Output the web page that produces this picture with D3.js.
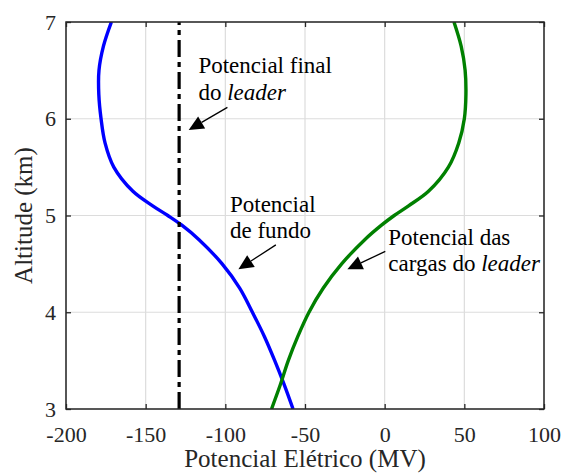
<!DOCTYPE html>
<html>
<head>
<meta charset="utf-8">
<script src="https://cdn.jsdelivr.net/npm/d3@7"></script>
<style>
html,body{margin:0;padding:0;background:#fff;}
svg{display:block;}
</style>
</head>
<body>
<svg id="chart" width="563" height="476"></svg>
<script>
// ---- data ----
const altitudes = [3.0,3.25,3.5,3.75,4.0,4.25,4.5,4.75,4.9,5.0,5.1,5.25,5.5,5.75,6.0,6.25,6.5,6.75,7.0];
const fundo     = [-57.5,-63,-69,-75.5,-83,-91,-102,-116.5,-127.3,-136.1,-145.6,-158,-170,-175.5,-178,-179.4,-179.3,-176.5,-171.5];
const cargas    = [-71,-65.5,-60.5,-54.5,-47.5,-38.5,-27,-12.5,-2,6,15,27.5,40,46.5,50,51,50.5,48,43.5];
const finalValue = -129;
const finalAlt = [3, 7];
const xTicks = [-200,-150,-100,-50,0,50,100];
const yTicks = [3,4,5,6,7];
const xLabel = "Potencial Elétrico (MV)";
const yLabel = "Altitude (km)";
// annotation text anchors and arrows in data units
const annotations = [
  {lines:[["Potencial final",""],["do ","leader"]], x:-116.9, y:6.47, tail:[-98.7,6.117], tip:[-123,5.884]},
  {lines:[["Potencial",""],["de fundo",""]], x:-97.1, y:5.04, tail:[-68.3,4.696], tip:[-91.8,4.445]},
  {lines:[["Potencial das",""],["cargas do ","leader"]], x:2.3, y:4.70, tail:[0.4,4.629], tip:[-23.4,4.445]}
];

const FONT = "'Liberation Serif'";

// ---- layout ----
const svg = d3.select("#chart");
const L = 66, R = 544, T = 22, B = 409;
const x = d3.scaleLinear().domain([-200,100]).range([L,R]);
const y = d3.scaleLinear().domain([3,7]).range([B,T]);

svg.append("rect").attr("width",563).attr("height",476).attr("fill","#fff");

// grid
const g = svg.append("g");
g.selectAll(".gx").data(xTicks).enter().append("line")
  .attr("x1",d=>x(d)).attr("x2",d=>x(d)).attr("y1",T).attr("y2",B)
  .attr("stroke","#dcdcdc").attr("stroke-width",1.2);
g.selectAll(".gy").data(yTicks).enter().append("line")
  .attr("y1",d=>y(d)).attr("y2",d=>y(d)).attr("x1",L).attr("x2",R)
  .attr("stroke","#dcdcdc").attr("stroke-width",1.2);

// lines
const lineGen = d3.line().curve(d3.curveCatmullRom.alpha(0.5));
const fundoPts = altitudes.map((a,i)=>[x(fundo[i]),y(a)]);
const cargasPts = altitudes.map((a,i)=>[x(cargas[i]),y(a)]);
svg.append("clipPath").attr("id","clip").append("rect")
  .attr("x",L).attr("y",T).attr("width",R-L).attr("height",B-T);
const plot = svg.append("g").attr("clip-path","url(#clip)");
plot.append("path").attr("d",lineGen(fundoPts)).attr("fill","none")
  .attr("stroke","#0000ff").attr("stroke-width",3.4);
plot.append("path").attr("d",lineGen(cargasPts)).attr("fill","none")
  .attr("stroke","#008000").attr("stroke-width",3.4);
plot.append("line").attr("x1",x(finalValue)).attr("x2",x(finalValue))
  .attr("y1",y(finalAlt[0])).attr("y2",y(finalAlt[1]))
  .attr("stroke","#000").attr("stroke-width",3.2)
  .attr("stroke-dasharray","17,5,5,5");

// axes
const fmt = d=>String(d);
const ax = svg.append("g").attr("transform",`translate(0,${B})`)
  .call(d3.axisBottom(x).tickValues(xTicks).tickSize(-5).tickPadding(17).tickFormat(fmt));
const axTop = svg.append("g").attr("transform",`translate(0,${T})`)
  .call(d3.axisTop(x).tickValues(xTicks).tickSize(-5).tickFormat(""));
const ay = svg.append("g").attr("transform",`translate(${L},0)`)
  .call(d3.axisLeft(y).tickValues(yTicks).tickSize(-5).tickPadding(10).tickFormat(fmt));
const ayR = svg.append("g").attr("transform",`translate(${R},0)`)
  .call(d3.axisRight(y).tickValues(yTicks).tickSize(-5).tickFormat(""));
[ax,axTop,ay,ayR].forEach(a=>{
  a.attr("font-family", null).attr("font-size", null);
  a.select(".domain").remove();
  a.selectAll(".tick line").attr("stroke","#262626").attr("stroke-width",1.3);
  a.selectAll(".tick text").attr("fill","#262626")
    .style("font-family", FONT).style("font-size","22px");
});
svg.append("rect").attr("x",L).attr("y",T).attr("width",R-L).attr("height",B-T)
  .attr("fill","none").attr("stroke","#262626").attr("stroke-width",1.5);

// axis labels
svg.append("text").attr("x",(L+R)/2).attr("y",467).attr("text-anchor","middle")
  .attr("fill","#262626").style("font-family",FONT).style("font-size","25px").text(xLabel);
svg.append("text").attr("transform",`translate(32,${(T+B)/2}) rotate(-90)`)
  .attr("text-anchor","middle").attr("fill","#262626")
  .style("font-family",FONT).style("font-size","25px").text(yLabel);

// annotations
annotations.forEach(an=>{
  const t = svg.append("text").attr("x",x(an.x)).attr("y",y(an.y))
    .attr("fill","#000").style("font-family",FONT).style("font-size","23px");
  an.lines.forEach((ln,i)=>{
    t.append("tspan").attr("x",x(an.x)).attr("dy", i===0?0:26.7).text(ln[0]);
    if(ln[1]) t.append("tspan").style("font-style","italic").text(ln[1]);
  });
  const x1=x(an.tail[0]), y1=y(an.tail[1]), x2=x(an.tip[0]), y2=y(an.tip[1]);
  const ang = Math.atan2(y2-y1,x2-x1);
  const hl = 15, hw = 7;
  const bx = x2 - hl*Math.cos(ang), by = y2 - hl*Math.sin(ang);
  svg.append("line").attr("x1",x1).attr("y1",y1).attr("x2",bx).attr("y2",by)
    .attr("stroke","#000").attr("stroke-width",1.3);
  const px = -Math.sin(ang), py = Math.cos(ang);
  svg.append("path").attr("d",`M${x2},${y2}L${bx+hw*px},${by+hw*py}L${bx-hw*px},${by-hw*py}Z`)
    .attr("fill","#000");
});
</script>
</body>
</html>
